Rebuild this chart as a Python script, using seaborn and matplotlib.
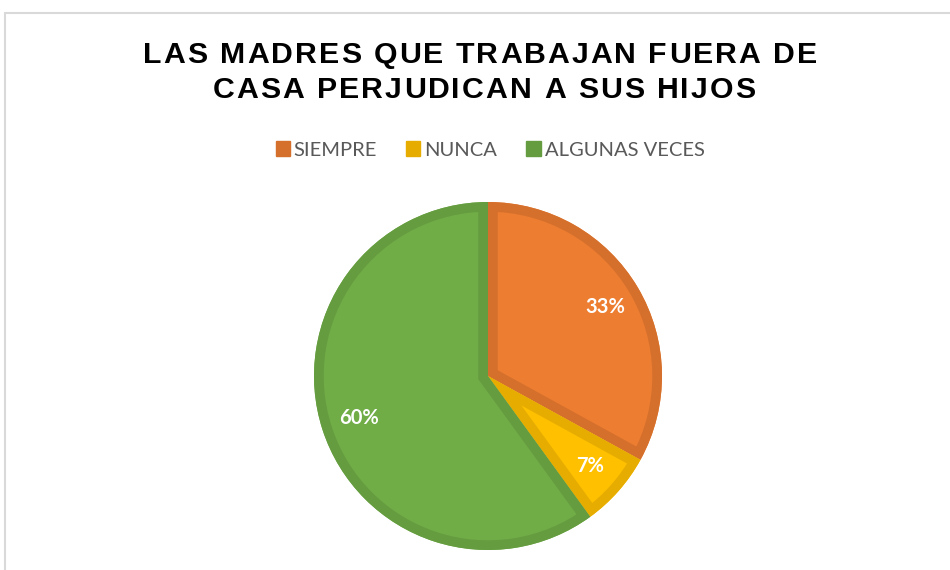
import matplotlib
matplotlib.use("Agg")
import matplotlib.pyplot as plt
from matplotlib import font_manager
from matplotlib.ft2font import FT2Font
from matplotlib.patches import Patch, Rectangle, Wedge
import seaborn as sns

# Survey answers and their shares (%)
categories = ["SIEMPRE", "NUNCA", "ALGUNAS VECES"]
values = [33, 7, 60]
title_lines = ["LAS MADRES QUE TRABAJAN FUERA DE", "CASA PERJUDICAN A SUS HIJOS"]

fill_colors = ["#ED7D31", "#FFC000", "#70AD47"]
edge_colors = ["#D5702C", "#E6AD00", "#659C40"]

sns.set_theme(style="white")
plt.rcParams["font.family"] = ["Liberation Sans", "DejaVu Sans"]

DPI = 100
fig = plt.figure(figsize=(9.5, 5.7), dpi=DPI)
W, H = 950, 570

# Light frame around the chart area
fig.patches.append(Rectangle((5 / W, -0.05), 1.1, 1 - 13 / H + 0.05,
                             transform=fig.transFigure, fill=False,
                             edgecolor="#D9D9D9", linewidth=1.5))

cx, cy, r = 488, 376, 174
ax = fig.add_axes([(cx - r) / W, (H - cy - r) / H, 2 * r / W, 2 * r / H])

wedges, texts, autotexts = ax.pie(
    values,
    colors=fill_colors,
    startangle=90,
    counterclock=False,
    radius=1.0,
    autopct=lambda p: f"{p:.0f}%",
    pctdistance=0.78,
    wedgeprops=dict(linewidth=0),
    textprops=dict(color="white", fontsize=14.5, fontweight="bold",
                   family=["Lato", "DejaVu Sans"]),
)
# Outline of each slice, drawn twice as wide and clipped to the slice so it
# only shows on the inside
for w, ec in zip(wedges, edge_colors):
    outline = Wedge(w.center, w.r, w.theta1, w.theta2, facecolor="none",
                    edgecolor=ec, linewidth=14, joinstyle="miter", zorder=1.5)
    ax.add_patch(outline)
    outline.set_clip_path(w.get_path(), ax.transData)
for t in autotexts:
    t.set_zorder(3)
ax.set_xlim(-1, 1)
ax.set_ylim(-1, 1)
ax.set_aspect("equal")
ax.axis("off")


def spaced_text(s, x_center_px, baseline_px, size, tracking_px, family, weight):
    """Draw a line of text with extra spacing between letters."""
    prop = font_manager.FontProperties(family=family, weight=weight, size=size)
    font = FT2Font(font_manager.findfont(prop))
    font.set_size(size, DPI)
    advances = [font.load_char(ord(c)).linearHoriAdvance / 65536 for c in s]
    total = sum(advances) + tracking_px * (len(s) - 1)
    x = x_center_px - total / 2
    for c, adv in zip(s, advances):
        fig.text(x / W, 1 - baseline_px / H, c, ha="left", va="baseline",
                 fontproperties=prop, color="black")
        x += adv + tracking_px


spaced_text(title_lines[0], 480, 63, 21.8, 2.0, "Liberation Sans", "bold")
spaced_text(title_lines[1], 484, 98, 21.8, 2.0, "Liberation Sans", "bold")

handles = [Patch(facecolor=c, edgecolor=c) for c in edge_colors]
fig.legend(handles, categories, loc="center", bbox_to_anchor=(490 / W, 1 - 150 / H),
           ncol=3, frameon=False, handlelength=0.7, handleheight=0.7,
           handletextpad=0.2, columnspacing=1.45,
           prop=dict(family=["Lato", "DejaVu Sans"], size=14.5),
           labelcolor="#595959")

fig.savefig("out.png", dpi=DPI)
